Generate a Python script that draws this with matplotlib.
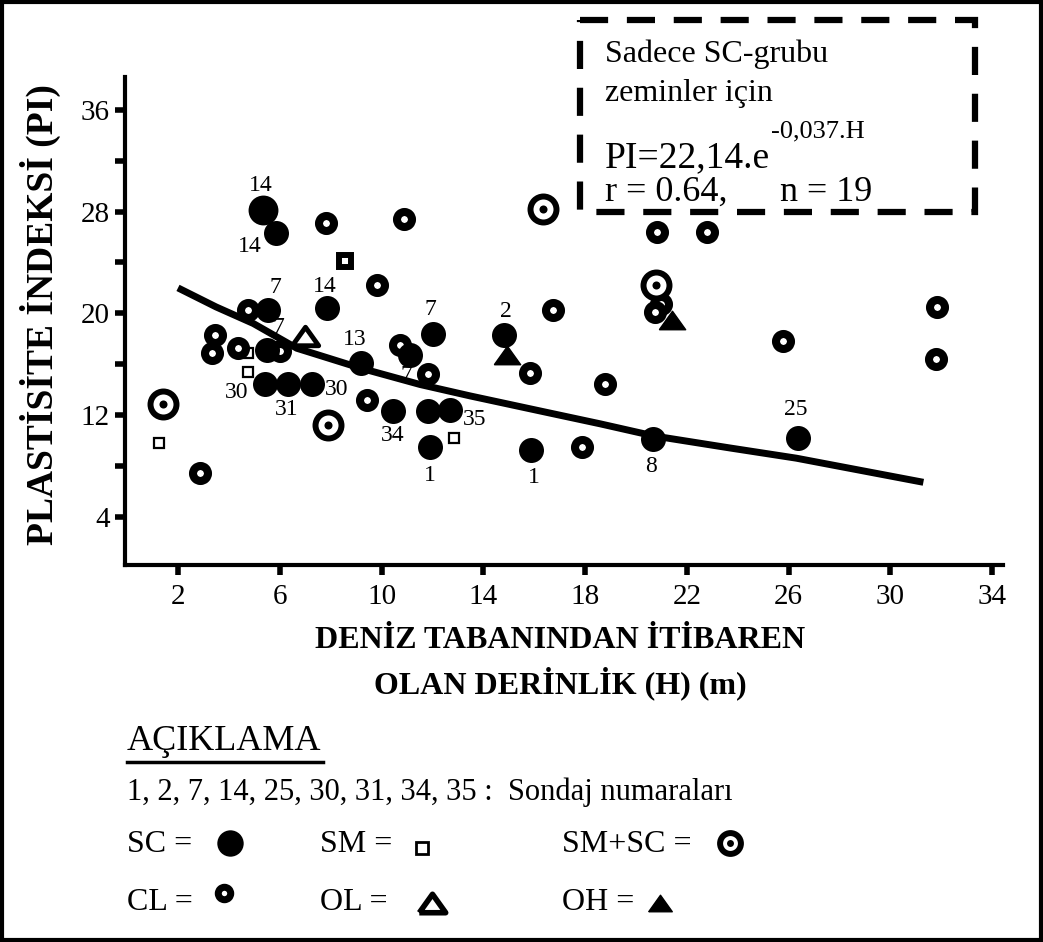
import matplotlib
matplotlib.use("Agg")
import matplotlib.pyplot as plt
from matplotlib.patches import Rectangle

plt.rcParams['font.family'] = ['Liberation Serif', 'DejaVu Serif']

# SC zeminler (sondaj numaralari ile)
sc_h = [5.35, 5.85, 7.87, 5.55, 5.49, 5.42, 6.34, 7.26, 9.18, 11.12, 12.04,
        10.44, 11.84, 12.69, 11.91, 14.81, 15.88, 20.68, 26.38]
sc_pi = [28.1, 26.3, 20.4, 20.3, 17.1, 14.4, 14.4, 14.4, 16.1, 16.7, 18.4,
         12.3, 12.3, 12.4, 9.45, 18.3, 9.25, 10.1, 10.2]
sc_lbl = ['14', '14', '14', '7', '7', '30', '31', '30', '13', '7', '7',
          '34', '', '35', '1', '2', '1', '8', '25']

# CL
cl_h = [7.82, 10.88, 9.84, 4.76, 3.45, 3.32, 4.37, 6.0, 9.42, 2.86, 10.73,
        11.84, 16.75, 15.84, 18.78, 17.87, 20.84, 22.8, 21.0, 20.75, 25.77,
        31.85, 31.8]
cl_pi = [27.1, 27.4, 22.2, 20.3, 18.3, 16.9, 17.25, 17.0, 13.2, 7.45, 17.5,
         15.2, 20.3, 15.3, 14.4, 9.5, 26.4, 26.4, 20.7, 20.1, 17.8,
         20.5, 16.4]

# SM
sm_h = [4.76, 4.76, 1.27, 12.85]
sm_pi = [16.9, 15.4, 9.8, 10.2]
smb_h = [8.56]
smb_pi = [24.1]

# SM+SC
smsc_h = [16.36, 20.79, 7.91, 1.42]
smsc_pi = [28.2, 22.2, 11.2, 12.9]

# OL / OH
ol_h = [6.99]
ol_pi = [18.2]
oh_h = [14.92, 21.4]
oh_pi = [16.7, 19.5]

# egri (resimden okunan noktalar)
curve_h = [2.0, 3.5, 4.96, 6.67, 9.15, 11.51, 13.48, 16.5, 18.6, 20.7, 23.7, 26.3, 31.3]
curve_pi = [22.0, 20.5, 19.2, 17.25, 15.7, 14.4, 13.5, 12.2, 11.3, 10.35, 9.4, 8.6, 6.7]

xticks = [2, 6, 10, 14, 18, 22, 26, 30, 34]
yticks = [4, 12, 20, 28, 36]
yminor = [8, 16, 24, 32]

# etiket kaydirmalari (piksel)
lbl_off = [(-2, 25), (-26, -13), (-3, 22), (7, 22), (12, 23), (-28, -8),
           (-2, -25), (25, -5), (-6, 23), (-4, -20), (-3, 24), (0, -24),
           (0, 0), (25, -10), (0, -28), (2, 23), (3, -28), (-2, -27), (-2, 28)]

W, H = 1043, 942
fig = plt.figure(figsize=(W / 100, H / 100), dpi=100)
ax = fig.add_axes([125 / W, (H - 565) / H, (1003 - 125) / W, (565 - 77) / H])

tri = [(-1, -0.7), (1, -0.7), (0, 0.7), (-1, -0.7)]
k = 0.72

ax.plot(curve_h, curve_pi, color='black', lw=5, zorder=2, solid_capstyle='butt')
ax.plot(sm_h, sm_pi, 's', ms=7, mfc='white', mec='black', mew=1.6, zorder=3)
ax.plot(smb_h, smb_pi, 's', ms=8.6, mfc='white', mec='black', mew=4.3, zorder=3)
ax.plot(cl_h, cl_pi, 'o', ms=10.8, mfc='white', mec='black', mew=5.8, zorder=3)
ax.plot(oh_h, oh_pi, marker=tri, ls='none', ms=19, color='black', zorder=3)
ax.plot(ol_h, ol_pi, marker=tri, ls='none', ms=19, mfc='white', mec='black', mew=3.5, zorder=3)
ax.plot(sc_h, sc_pi, 'o', ms=18, color='black', mew=0, zorder=4)
ax.plot(sc_h[:1], sc_pi[:1], 'o', ms=21.5, color='black', mew=0, zorder=4)
ax.plot(smsc_h, smsc_pi, 'o', ms=18.7, mfc='white', mec='black', mew=4.3, zorder=4)
ax.plot(smsc_h, smsc_pi, 'o', ms=5.8, color='black', mew=0, zorder=4)

for h, p, t, (dx, dy) in zip(sc_h, sc_pi, sc_lbl, lbl_off):
    if t:
        ax.annotate(t, (h, p), xytext=(dx * k, dy * k), textcoords='offset points',
                    ha='center', va='center', fontsize=17, zorder=5)

ax.set_xlim(-0.083, 34.43)
ax.set_ylim(0.19, 38.6)
ax.set_xticks(xticks)
ax.set_yticks(yticks)
ax.set_yticks(yminor, minor=True)
ax.tick_params(axis='both', which='both', direction='out', length=7, width=4)
ax.tick_params(axis='x', labelsize=21, pad=7)
ax.tick_params(axis='y', labelsize=21, pad=4)
for s in ['top', 'right']:
    ax.spines[s].set_visible(False)
for s in ['left', 'bottom']:
    ax.spines[s].set_linewidth(3)

# ust katman (piksel koordinatlari)
ov = fig.add_axes([0, 0, 1, 1])
ov.set_xlim(0, W)
ov.set_ylim(H, 0)
ov.axis('off')
ov.patch.set_alpha(0)
ov.set_zorder(5)

ov.add_patch(Rectangle((2, 2), W - 4, H - 4, fill=False, ec='black', lw=3))

ov.text(40, 315, 'PLASTİSİTE İNDEKSİ (PI)', rotation=90, ha='center', va='center',
        fontsize=27, fontweight='bold')
ov.text(560, 640, 'DENİZ TABANINDAN İTİBAREN', ha='center', va='center',
        fontsize=23, fontweight='bold')
ov.text(560, 683, 'OLAN DERİNLİK (H) (m)', ha='center', va='center',
        fontsize=23, fontweight='bold')

# denklem kutusu
ov.add_patch(Rectangle((580, 20), 395, 192, fc='white', ec='black', lw=4.5,
                       ls=(0, (4.5, 3))))
ov.text(605, 62, 'Sadece SC-grubu', fontsize=23, va='baseline')
ov.text(605, 101, 'zeminler için', fontsize=23, va='baseline')
ov.text(605, 167, 'PI=22,14.e', fontsize=27, va='baseline')
ov.text(771, 137, '-0,037.H', fontsize=19, va='baseline')
ov.text(605, 201, 'r = 0.64,', fontsize=26, va='baseline')
ov.text(780, 201, 'n = 19', fontsize=26, va='baseline')

# aciklama
ov.text(127, 742, 'AÇIKLAMA', fontsize=26, va='center')
ov.plot([127, 323], [762, 762], color='black', lw=2.5)
ov.text(127, 792, '1, 2, 7, 14, 25, 30, 31, 34, 35 :  Sondaj numaraları',
        fontsize=22, va='center')

ov.text(127, 845, 'SC =', fontsize=23, va='center')
ov.plot([230], [843], 'o', ms=19, color='black', mew=0)
ov.text(320, 845, 'SM =', fontsize=23, va='center')
ov.plot([422], [848], 's', ms=9, mfc='white', mec='black', mew=2)
ov.text(562, 845, 'SM+SC =', fontsize=23, va='center')
ov.plot([730], [843], 'o', ms=15, mfc='white', mec='black', mew=4.3)
ov.plot([730], [843], 'o', ms=5, color='black', mew=0)

ov.text(127, 902, 'CL =', fontsize=23, va='center')
ov.plot([224], [893], 'o', ms=9, mfc='white', mec='black', mew=5)
ov.text(320, 902, 'OL =', fontsize=23, va='center')
ov.plot([432], [903], marker=tri, ls='none', ms=19, mfc='white', mec='black', mew=4)
ov.text(562, 902, 'OH =', fontsize=23, va='center')
ov.plot([660], [903], marker=tri, ls='none', ms=17, color='black')

fig.savefig('out.png', dpi=100)
